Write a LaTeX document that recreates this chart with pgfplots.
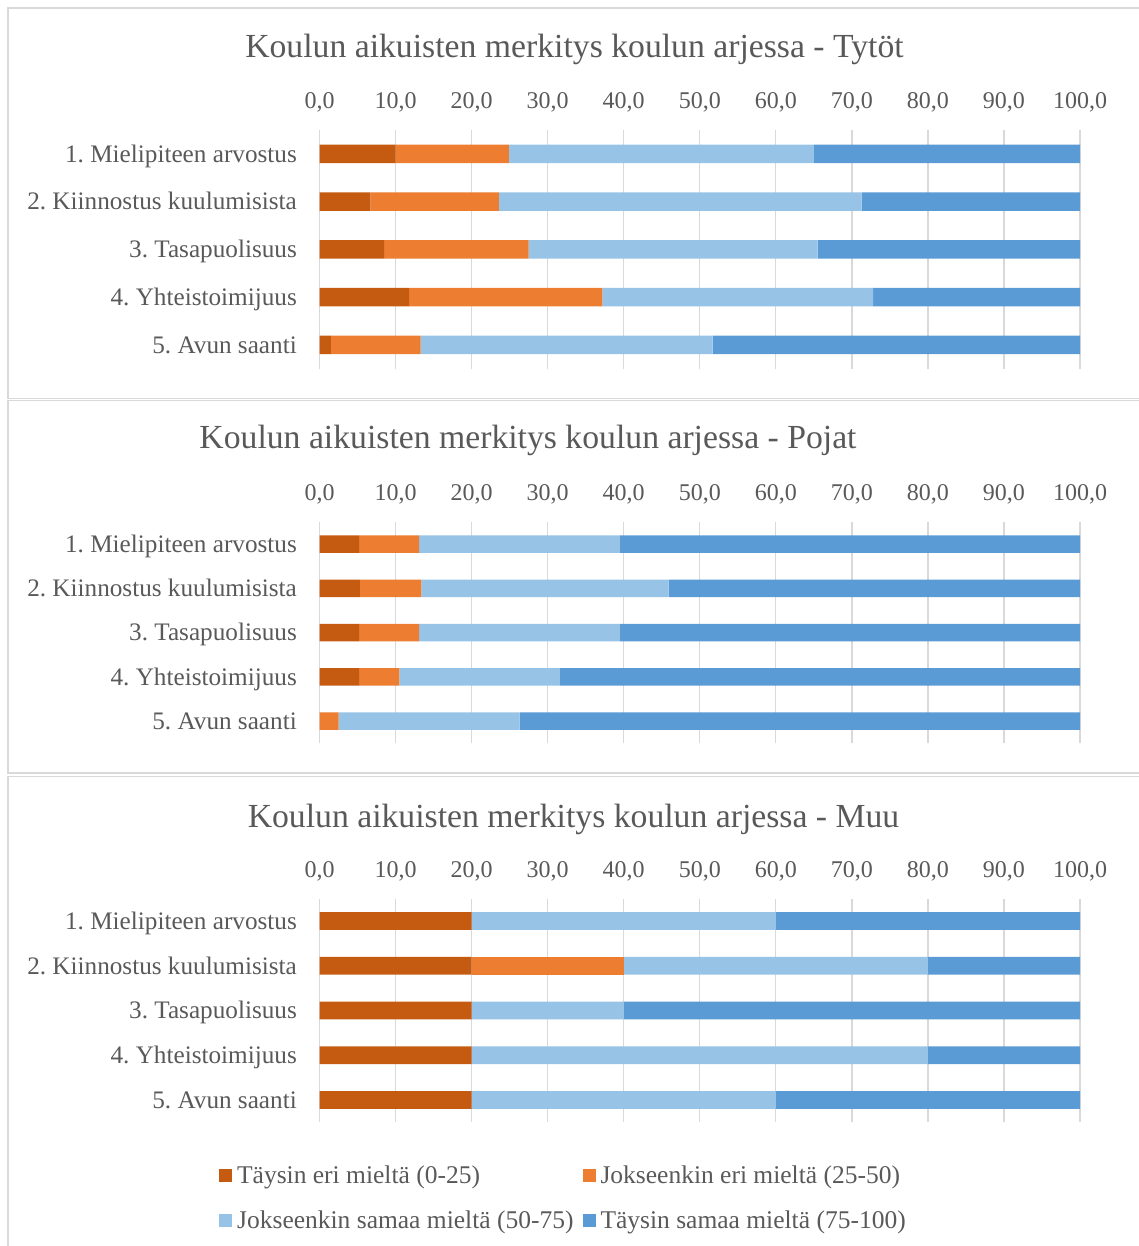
\documentclass[border=0pt]{standalone}
\usepackage{fontspec}
\setmainfont{Liberation Serif}
\usepackage{pgfplots}
\pgfplotsset{compat=1.18}
\frenchspacing
\definecolor{c1}{HTML}{C55A11}
\definecolor{c2}{HTML}{ED7D31}
\definecolor{c3}{HTML}{97C3E7}
\definecolor{c4}{HTML}{5B9BD5}
\definecolor{txt}{HTML}{595959}
\definecolor{gridc}{HTML}{D9D9D9}
\pgfplotsset{
  panel/.style={
    xbar stacked,
    scale only axis,
    width=760.5pt,
    xmin=0, xmax=100,
    ymin=0.5, ymax=5.5,
    xtick={0,10,...,100},
    ytick={1,2,3,4,5},
    yticklabels={5. Avun saanti, 4. Yhteistoimijuus, 3. Tasapuolisuus, 2. Kiinnostus kuulumisista, 1. Mielipiteen arvostus},
    xticklabel pos=upper,
    xmajorgrids,
    major grid style={draw=gridc, line width=1.3pt},
    axis line style={draw=none},
    major tick length=0pt,
    tick style={draw=none},
    xticklabel style={font=\fontsize{24}{28}\selectfont, text=txt, anchor=base, inner sep=0pt, yshift=21.5pt, /pgf/number format/.cd, fixed, fixed zerofill, precision=1, use comma, 1000 sep={}, assume math mode=true},
    yticklabel style={font=\fontsize{25.2}{30}\selectfont\frenchspacing, text=txt, anchor=base east, inner sep=0pt, xshift=-22.5pt, yshift=-8.3pt},
    legend image code/.code={\fill[##1] (0pt,-6.5pt) rectangle (13pt,6.5pt); \path (18pt,0pt);},
  },
}
\begin{document}
\begin{tikzpicture}
\useasboundingbox (0pt,0pt) rectangle (1138pt,-1246pt);
\draw[gridc, line width=1.5pt] (8pt,-8pt) rectangle (1150pt,-398.5pt);
\draw[gridc, line width=1.5pt] (8pt,-400.5pt) rectangle (1150pt,-773pt);
\draw[gridc, line width=1.5pt] (8pt,-776.5pt) rectangle (1150pt,-1260pt);
\node[anchor=base, font=\fontsize{33.7}{40}\selectfont, text=txt] at (574.5pt,-58pt) {Koulun aikuisten merkitys koulun arjessa - Tytöt};
\node[anchor=base, font=\fontsize{33.7}{40}\selectfont, text=txt] at (528pt,-448pt) {Koulun aikuisten merkitys koulun arjessa - Pojat};
\node[anchor=base, font=\fontsize{33.7}{40}\selectfont, text=txt] at (573.5pt,-827pt) {Koulun aikuisten merkitys koulun arjessa - Muu};

% Panel 1: Tytot
\begin{axis}[panel, at={(319.5pt,-130pt)}, anchor=north west, height=238.75pt, bar width=18.7pt]
\addplot[fill=c1, draw=none] coordinates {(10.0,5) (6.7,4) (8.5,3) (11.8,2) (1.5,1)};
\addplot[fill=c2, draw=none] coordinates {(14.9,5) (16.9,4) (19.0,3) (25.4,2) (11.8,1)};
\addplot[fill=c3, draw=none] coordinates {(40.1,5) (47.7,4) (38.0,3) (35.6,2) (38.4,1)};
\addplot[fill=c4, draw=none] coordinates {(35.0,5) (28.7,4) (34.5,3) (27.2,2) (48.3,1)};
\end{axis}

% Panel 2: Pojat
\begin{axis}[panel, at={(319.5pt,-522pt)}, anchor=north west, height=221.25pt, bar width=17.6pt]
\addplot[fill=c1, draw=none] coordinates {(5.2,5) (5.3,4) (5.2,3) (5.2,2) (0,1)};
\addplot[fill=c2, draw=none] coordinates {(7.9,5) (8.1,4) (7.9,3) (5.3,2) (2.5,1)};
\addplot[fill=c3, draw=none] coordinates {(26.4,5) (32.5,4) (26.4,3) (21.1,2) (23.8,1)};
\addplot[fill=c4, draw=none] coordinates {(60.5,5) (54.1,4) (60.5,3) (68.4,2) (73.7,1)};
\end{axis}

% Panel 3: Muu
\begin{axis}[panel, at={(319.5pt,-898.6pt)}, anchor=north west, height=223.75pt, bar width=17.6pt,
  legend columns=2,
  legend cell align=left,
  legend style={at={(-0.1322,-0.1817)}, anchor=north west, draw=none, fill=none, inner sep=0pt,
    font=\fontsize{25.5}{30}\selectfont, text=txt,
    nodes={inner sep=0pt, text height=20pt, text depth=5pt},
    row sep=20pt, column sep=0pt,
    /tikz/every even column/.append style={column sep=9pt}},
  ]
\addplot[fill=c1, draw=none] coordinates {(20,5) (20,4) (20,3) (20,2) (20,1)};
\addplot[fill=c2, draw=none] coordinates {(0,5) (20,4) (0,3) (0,2) (0,1)};
\addplot[fill=c3, draw=none] coordinates {(40,5) (40,4) (20,3) (60,2) (40,1)};
\addplot[fill=c4, draw=none] coordinates {(40,5) (20,4) (60,3) (20,2) (40,1)};
\legend{Täysin eri mieltä (0-25), Jokseenkin eri mieltä (25-50), Jokseenkin samaa mieltä (50-75), Täysin samaa mieltä (75-100)}
\end{axis}
\end{tikzpicture}
\end{document}
